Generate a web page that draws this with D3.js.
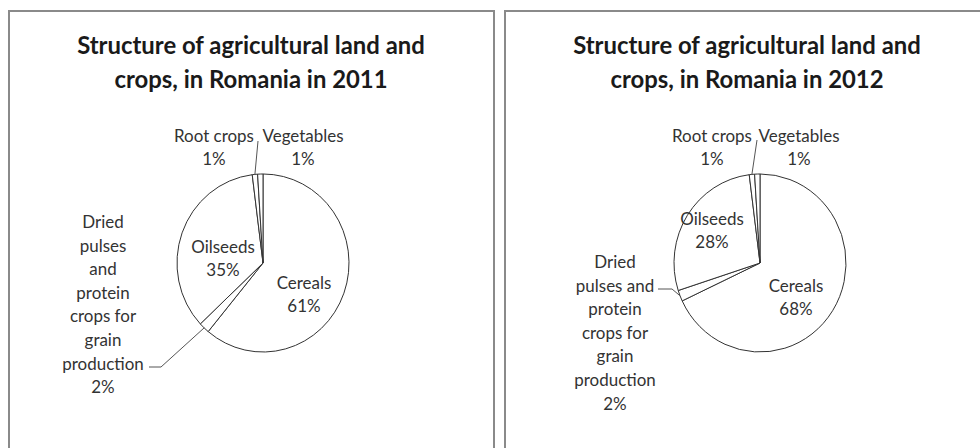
<!DOCTYPE html>
<html>
<head>
<meta charset="utf-8">
<script src="https://cdn.jsdelivr.net/npm/d3@7"></script>
<style>
  html, body { margin: 0; padding: 0; background: #fff; }
  svg { display: block; }
  text { font-family: Lato, "Open Sans", sans-serif; }
</style>
</head>
<body>
<svg id="chart" width="980" height="448"></svg>
<script>
// Crop categories, in drawing order (clockwise from 12 o'clock)
const categories = ["Cereals", "Dried pulses and protein crops for grain production", "Oilseeds", "Root crops", "Vegetables"];
// Share of cultivated area, percent
const values2011 = [61, 2, 35, 1, 1];
const values2012 = [68, 2, 28, 1, 1];
const years = ["2011", "2012"];
const titleLines = ["Structure of agricultural land and", "crops, in Romania in "];

// Wrapped label text for the long category, per panel
const driedLines2011 = ["Dried", "pulses", "and", "protein", "crops for", "grain", "production"];
const driedLines2012 = ["Dried", "pulses and", "protein", "crops for", "grain", "production"];

const svg = d3.select("#chart");

// Panel layout: frame, pie centre, label anchors relative to the centre
const panels = [
  {
    year: years[0], values: values2011, driedLines: driedLines2011,
    frame: { x: 9, y: 11, w: 485 }, cx: 263, cy: 263, titleX: 251,
    labels: [
      { i: 0, x: 41, y: 26 },
      { i: 2, x: -40, y: -10 },
      { i: 3, x: -49, y: -121 },
      { i: 4, x: 40, y: -121 },
      { i: 1, x: -160, y: -35 }
    ],
    leaders: [
      { i: 3, pts: [[-5, -122]] },
      { i: 1, pts: [[-114, 104], [-102, 104]] }
    ]
  },
  {
    year: years[1], values: values2012, driedLines: driedLines2012,
    frame: { x: 505, y: 11, w: 490 }, cx: 760, cy: 263, titleX: 747,
    labels: [
      { i: 0, x: 36, y: 29 },
      { i: 2, x: -48, y: -38 },
      { i: 3, x: -48, y: -121 },
      { i: 4, x: 39, y: -121 },
      { i: 1, x: -145, y: 5 }
    ],
    leaders: [
      { i: 3, pts: [[-3, -123]] },
      { i: 1, pts: [[-102, 26], [-88, 26]] }
    ]
  }
];

const radius = 86;
const squash = 1.035; // slight vertical stretch of the plotted pie
const lineStep = 23.6;

// Fit a font size so that a reference string spans a given width
function fitSize(str, weight, target) {
  const t = svg.append("text").attr("font-size", 20).attr("font-weight", weight).text(str);
  const w = t.node().getComputedTextLength();
  t.remove();
  return 20 * target / w;
}
const titleSize = fitSize(titleLines[0], "bold", 348);
const labelSize = fitSize("Root crops", "normal", 80);

const pie = d3.pie().sort(null).value(d => d);
const arc = d3.arc().innerRadius(0).outerRadius(radius);

panels.forEach(p => {
  const g = svg.append("g");

  // frame: top and side rules, open at the bottom
  g.append("path")
    .attr("d", `M${p.frame.x},448 V${p.frame.y} H${p.frame.x + p.frame.w} V448`)
    .attr("fill", "none")
    .attr("stroke", "#8a8a8a")
    .attr("stroke-width", 2);

  // title
  const title = g.append("text")
    .attr("x", p.titleX)
    .attr("text-anchor", "middle")
    .attr("font-size", titleSize)
    .attr("font-weight", "bold")
    .attr("fill", "#1a1a1a");
  title.append("tspan").attr("x", p.titleX).attr("y", 54).text(titleLines[0]);
  title.append("tspan").attr("x", p.titleX).attr("y", 88).text(titleLines[1] + p.year);

  const arcs = pie(p.values);
  const pg = g.append("g").attr("transform", `translate(${p.cx},${p.cy}) scale(1,${squash})`);

  pg.selectAll("path.slice")
    .data(arcs)
    .join("path")
    .attr("class", "slice")
    .attr("d", arc)
    .attr("fill", "#fff")
    .attr("stroke", "#333")
    .attr("stroke-width", 1)
    .attr("vector-effect", "non-scaling-stroke")
    .attr("stroke-linejoin", "round");

  // leader lines: from label to the outer edge of the slice
  p.leaders.forEach(l => {
    const a = arcs[l.i];
    const mid = (a.startAngle + a.endAngle) / 2;
    const edge = [Math.sin(mid) * radius, -Math.cos(mid) * radius * squash];
    const pts = l.pts.concat([edge]);
    g.append("path")
      .attr("d", d3.line()(pts.map(q => [p.cx + q[0], p.cy + q[1]])))
      .attr("fill", "none")
      .attr("stroke", "#555")
      .attr("stroke-width", 1);
  });

  // data labels: name + percentage
  p.labels.forEach(l => {
    const lines = l.i === 1 ? p.driedLines : [categories[l.i]];
    const all = lines.concat([p.values[l.i] + "%"]);
    const t = g.append("text")
      .attr("text-anchor", "middle")
      .attr("font-size", labelSize)
      .attr("fill", "#333");
    all.forEach((s, k) => {
      t.append("tspan")
        .attr("x", p.cx + l.x)
        .attr("y", p.cy + l.y + k * (l.i === 1 ? lineStep : 23))
        .text(s);
    });
  });
});
</script>
</body>
</html>
